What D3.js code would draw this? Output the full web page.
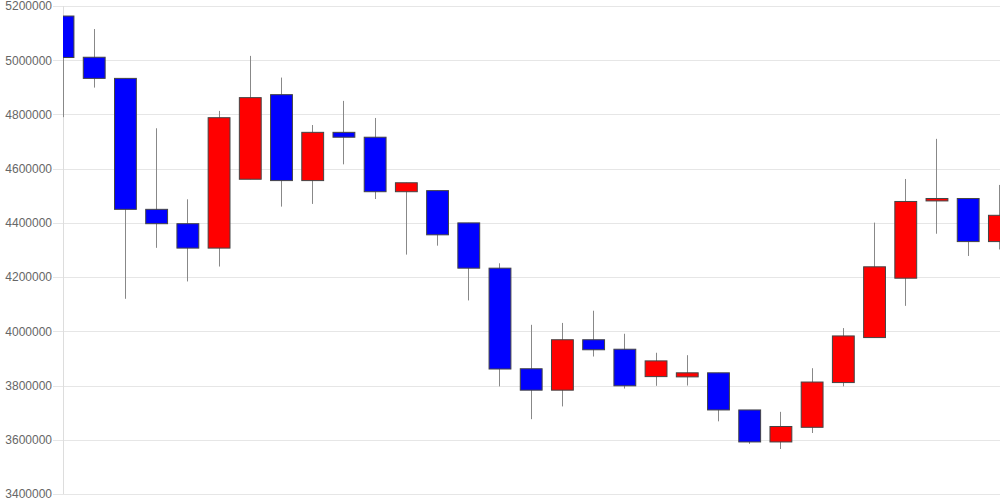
<!DOCTYPE html>
<html>
<head>
<meta charset="utf-8">
<script src="https://cdn.jsdelivr.net/npm/d3@7"></script>
<style>
  html, body { margin: 0; padding: 0; background: #fff; }
  svg { display: block; }
  text { font-family: "Liberation Sans", Arial, sans-serif; }
</style>
</head>
<body>
<svg id="chart" width="1000" height="500"></svg>
<script>
// ---- data ----
const categories = d3.range(1, 32).map(String);
const openVals  = [5163000,5011000,4933000,4450000,4397000,4307000,4561000,4873000,4556000,4734000,4716000,4515000,4519000,4400000,4233000,3862000,3783000,3969000,3934000,3833000,3832000,3847000,3710000,3592000,3646000,3811000,3977000,4196000,4481000,4490000,4331000];
const highVals  = [5163000,5115000,4933000,4749000,4487000,4813000,5016000,4936000,4761000,4850000,4787000,4548000,4519000,4400000,4251000,4024000,4031000,4076000,3991000,3921000,3912000,3847000,3710000,3703000,3864000,4012000,4401000,4562000,4710000,4491000,4540000];
const lowVals   = [4790000,4899000,4120000,4308000,4184000,4239000,4561000,4460000,4470000,4616000,4488000,4283000,4316000,4114000,3797000,3676000,3723000,3907000,3789000,3799000,3800000,3668000,3585000,3566000,3625000,3797000,3977000,4094000,4360000,4278000,4302000];
const closeVals = [5010000,4933000,4450000,4397000,4307000,4788000,4862000,4556000,4734000,4716000,4515000,4548000,4356000,4233000,3861000,3783000,3969000,3932000,3799000,3891000,3847000,3710000,3592000,3649000,3813000,3983000,4238000,4479000,4490000,4331000,4428000];
const yTicks = [3400000,3600000,3800000,4000000,4200000,4400000,4600000,4800000,5000000,5200000];

// ---- layout ----
const W = 1000, H = 500;
const mLeft = 63, mRight = 999.4, mTop = 6, mBottom = 494;

const svg = d3.select("#chart");

const x = d3.scalePoint().domain(categories).range([mLeft, mRight]);
const y = d3.scaleLinear().domain([3400000, 5200000]).range([mBottom, mTop]);
const bodyW = x.step() * 0.7;

// gridlines + labels
const grid = svg.append("g");
grid.selectAll("line").data(yTicks).join("line")
  .attr("x1", mLeft - 10).attr("x2", W)
  .attr("y1", d => Math.round(y(d)) + 0.5).attr("y2", d => Math.round(y(d)) + 0.5)
  .attr("stroke", "#e6e6e6").attr("stroke-width", 1);

const yAxis = d3.axisLeft(y).tickValues(yTicks).tickSize(0).tickPadding(0)
  .tickFormat(d3.format("d"));
const ax = svg.append("g").attr("transform", `translate(${mLeft - 11},0)`).call(yAxis);
ax.select(".domain").remove();
ax.selectAll("text").attr("fill", "#666").style("font-size", "12px")
  .style("font-family", "'Liberation Sans', Arial, sans-serif");

// vertical axis line
svg.append("line")
  .attr("x1", mLeft + 0.5).attr("x2", mLeft + 0.5)
  .attr("y1", mTop).attr("y2", mBottom)
  .attr("stroke", "#dddddd").attr("stroke-width", 1);

// clip
svg.append("clipPath").attr("id", "plotclip")
  .append("rect").attr("x", mLeft).attr("y", 0).attr("width", W - mLeft).attr("height", H);

const data = categories.map((c, i) => ({
  c, o: openVals[i], h: highVals[i], l: lowVals[i], cl: closeVals[i]
}));

const g = svg.append("g").attr("clip-path", "url(#plotclip)");

g.selectAll("line.wick").data(data).join("line")
  .attr("class", "wick")
  .attr("x1", d => Math.floor(x(d.c)) + 0.5).attr("x2", d => Math.floor(x(d.c)) + 0.5)
  .attr("y1", d => y(d.h)).attr("y2", d => y(d.l))
  .attr("stroke", "#888").attr("stroke-width", 1);

g.selectAll("rect.body").data(data).join("rect")
  .attr("class", "body")
  .attr("x", d => x(d.c) - bodyW / 2)
  .attr("width", bodyW)
  .attr("y", d => y(Math.max(d.o, d.cl)))
  .attr("height", d => Math.max(1.5, Math.abs(y(d.o) - y(d.cl))))
  .attr("fill", d => d.cl > d.o ? "#ff0000" : "#0000ff")
  .attr("stroke", "#444").attr("stroke-width", 1);
</script>
</body>
</html>
